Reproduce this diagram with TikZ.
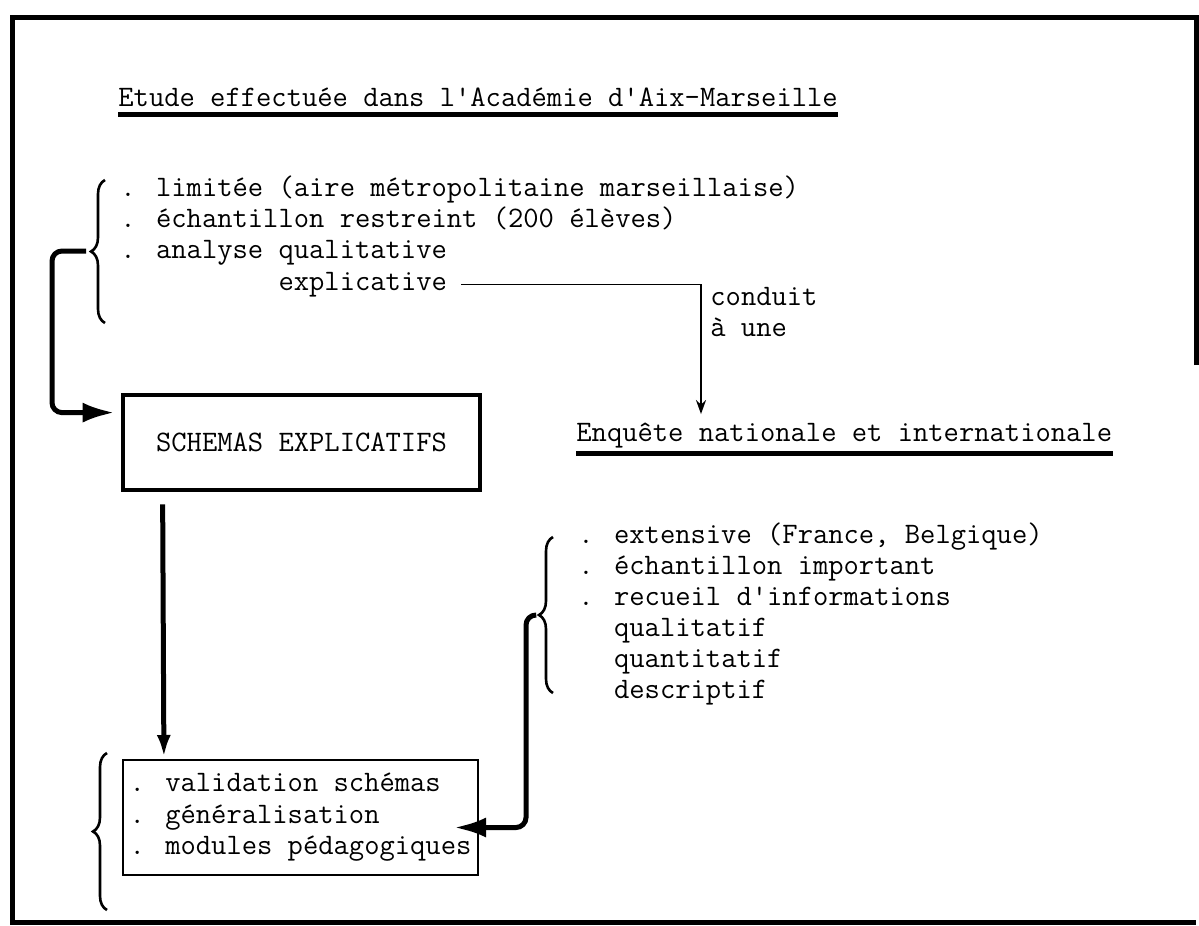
\documentclass[tikz,border=0pt]{standalone}
\usepackage{tikz}
\usetikzlibrary{arrows.meta, decorations.pathreplacing}
\tikzstyle{txt} = [inner sep=0pt, anchor=base west, font=\ttfamily\fontsize{14.86pt}{15.6pt}\selectfont]
\tikzstyle{schemabox} = [rectangle, draw=black, line width=2.4pt, minimum width=178.5pt, minimum height=47.5pt, text centered, font=\ttfamily\fontsize{14.86pt}{15.6pt}\selectfont]
\tikzstyle{listbox} = [rectangle, draw=black, line width=1pt, minimum width=177.5pt, minimum height=57.5pt, align=left, font=\ttfamily\fontsize{14.86pt}{15.7pt}\selectfont]
\tikzstyle{brc} = [decorate, decoration={brace, amplitude=7pt}, line width=1.3pt]
\tikzstyle{bigarrow} = [line width=2.5pt, rounded corners=5pt, -{Latex[length=16pt,width=10pt]}]
\tikzstyle{downarrow} = [line width=2.5pt, -{Latex[length=11pt,width=7pt]}]
\tikzstyle{thinarrow} = [line width=0.9pt, -{Stealth[length=7pt,width=5pt]}]
\tikzstyle{underline} = [line width=2.5pt]

\begin{document}
\begin{tikzpicture}[x=0.5pt, y=-0.5pt]
   \useasboundingbox (0,0) rectangle (1199,926);
   % cadre
   \draw [line width=2.5pt] (1196,365) -- (1196,17) -- (12,17) -- (12,922) -- (1196,922);
   % titre
   \node (titre) [txt] at (118,106) {Etude effectu\'ee dans l\textquotesingle Acad\'emie d\textquotesingle Aix-Marseille};
   \draw [underline] ([yshift=-4pt]titre.base west) -- ([yshift=-4pt]titre.base east);
   % etude limitee
   \node (lim) [txt] at (120,196) {. limitée (aire métropolitaine marseillaise)};
   \node (ech) [txt] at ([yshift=-15.7pt]lim.base west) {. échantillon restreint (200 élèves)};
   \node (ana) [txt] at ([yshift=-15.7pt]ech.base west) {. analyse qualitative};
   \node (expl) [txt] at ([yshift=-15.7pt]ana.base west) {\hphantom{. analyse }explicative};
   \draw [brc] (105,323) -- (105,180);
   \coordinate (tip1) at (86,251);
   % schemas
   \node (schemas) [schemabox] at (301.5,442.5) {SCHEMAS EXPLICATIFS};
   \draw [bigarrow, shorten >=3pt] (tip1) -- ++(-34,0) |- ([yshift=-10pt]schemas.north west);
   % enquete
   \node (enquete) [txt] at (576,441) {Enquête nationale et internationale};
   \draw [underline] ([yshift=-6pt]enquete.base west) -- ([yshift=-6pt]enquete.base east);
   \node (cond) [txt] at (710,305) {conduit};
   \node (aune) [txt] at ([yshift=-15.7pt]cond.base west) {à une};
   \draw [thinarrow, shorten <=7pt, shorten >=4pt] (expl.east) -| ([xshift=62.5pt]enquete.north west);
   % enquete extensive
   \node (ext) [txt] at (578,543) {. extensive (France, Belgique)};
   \node (echi) [txt] at ([yshift=-15.5pt]ext.base west) {. échantillon important};
   \node (rec) [txt] at ([yshift=-15.5pt]echi.base west) {. recueil d\textquotesingle informations};
   \node (qual) [txt] at ([yshift=-15.5pt]rec.base west) {\hphantom{. }qualitatif};
   \node (quan) [txt] at ([yshift=-15.5pt]qual.base west) {\hphantom{. }quantitatif};
   \node (desc) [txt] at ([yshift=-15.5pt]quan.base west) {\hphantom{. }descriptif};
   \draw [brc] (553,693) -- (553,537);
   \coordinate (tip3) at (535,615);
   % bilan
   \node (bilan) [listbox] at (300.5,817.5) {. validation schémas\\. généralisation\\. modules pédagogiques};
   \draw [brc] (107,910) -- (107,753);
   \draw [downarrow, shorten <=6pt, shorten >=1pt] ([xshift=21pt]schemas.south west) -- ([xshift=21pt]bilan.north west);
   \draw [bigarrow] (tip3) -- ++(-9,0) |- ([xshift=-12.5pt,yshift=-5pt]bilan.east);
\end{tikzpicture}
\end{document}
